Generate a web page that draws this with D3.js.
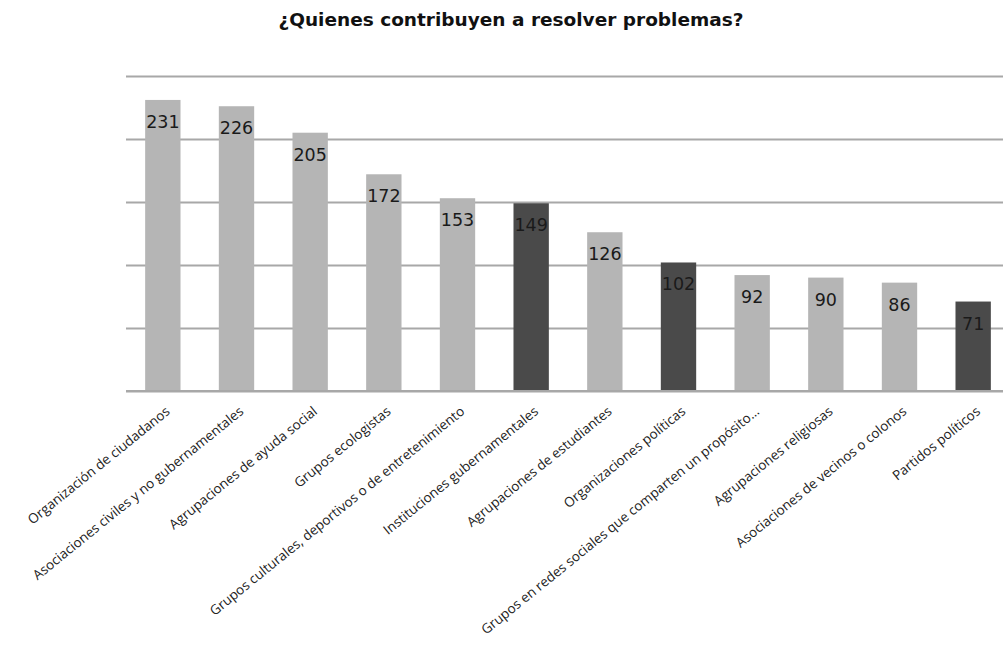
<!DOCTYPE html>
<html>
<head>
<meta charset="utf-8">
<script src="https://cdn.jsdelivr.net/npm/d3@7"></script>
<style>
  html, body { margin: 0; padding: 0; background: #fff; }
  svg { display: block; }
</style>
</head>
<body>
<svg id="chart" width="1003" height="645"></svg>
<script>
// Categorías y número de menciones
const categories = [
  "Organización de ciudadanos",
  "Asociaciones civiles y no gubernamentales",
  "Agrupaciones de ayuda social",
  "Grupos ecologistas",
  "Grupos culturales, deportivos o de entretenimiento",
  "Instituciones gubernamentales",
  "Agrupaciones de estudiantes",
  "Organizaciones políticas",
  "Grupos en redes sociales que comparten un propósito…",
  "Agrupaciones religiosas",
  "Asociaciones de vecinos o colonos",
  "Partidos políticos"
];
const values = [231, 226, 205, 172, 153, 149, 126, 102, 92, 90, 86, 71];
// Categorías resaltadas en gris oscuro
const highlighted = [
  "Instituciones gubernamentales",
  "Organizaciones políticas",
  "Partidos políticos"
];
const yTicks = [0, 50, 100, 150, 200, 250];
const title = "¿Quienes contribuyen a resolver problemas?";

const svg = d3.select("#chart");
const margin = { left: 126, right: -7, top: 76, bottom: 391 };

const x = d3.scaleBand()
  .domain(categories)
  .range([margin.left, 1003 - margin.right])
  .paddingInner(0.52)
  .paddingOuter(0.26);

const y = d3.scaleLinear()
  .domain([0, 250])
  .range([margin.bottom, margin.top]);

// Título
svg.append("text")
  .attr("x", 511)
  .attr("y", 26)
  .attr("text-anchor", "middle")
  .attr("font-family", "'DejaVu Sans', sans-serif")
  .attr("font-weight", "bold")
  .attr("font-size", 18.5)
  .attr("fill", "#111")
  .text(title);

// Líneas de cuadrícula
const grid = d3.axisLeft(y)
  .tickValues(yTicks)
  .tickSize(-(1003 - margin.left))
  .tickFormat("");
svg.append("g")
  .attr("transform", `translate(${margin.left},0)`)
  .call(grid)
  .call(g => g.select(".domain").remove())
  .call(g => g.selectAll(".tick line")
    .attr("stroke", "#a8a8a8")
    .attr("stroke-width", 2));

// Barras
svg.append("g")
  .selectAll("rect")
  .data(categories)
  .join("rect")
  .attr("x", d => x(d))
  .attr("width", x.bandwidth())
  .attr("y", (d, i) => y(values[i]))
  .attr("height", (d, i) => y(0) - y(values[i]))
  .attr("fill", d => highlighted.includes(d) ? "#4a4a4a" : "#b5b5b5");

// Línea base
svg.append("line")
  .attr("x1", margin.left)
  .attr("x2", 1003)
  .attr("y1", y(0))
  .attr("y2", y(0))
  .attr("stroke", "#a8a8a8")
  .attr("stroke-width", 2);

// Etiquetas de valor
svg.append("g")
  .selectAll("text")
  .data(categories)
  .join("text")
  .attr("x", d => x(d) + x.bandwidth() / 2)
  .attr("y", (d, i) => y(values[i]) + 28)
  .attr("text-anchor", "middle")
  .attr("font-family", "'DejaVu Sans', sans-serif")
  .attr("font-size", 17.5)
  .attr("fill", "#1a1a1a")
  .text((d, i) => values[i]);

// Etiquetas del eje de categorías
const xAxis = d3.axisBottom(x).tickSize(0).tickPadding(0);
svg.append("g")
  .attr("transform", `translate(0,${y(0)})`)
  .call(xAxis)
  .call(g => g.select(".domain").remove())
  .call(g => g.selectAll(".tick text")
    .attr("font-family", "'Open Sans', sans-serif")
    .attr("font-size", 13.5)
    .attr("fill", "#222")
    .attr("text-anchor", "end")
    .attr("dy", 0)
    .attr("y", 0)
    .attr("transform", "translate(8,22) rotate(-39)"));
</script>
</body>
</html>
